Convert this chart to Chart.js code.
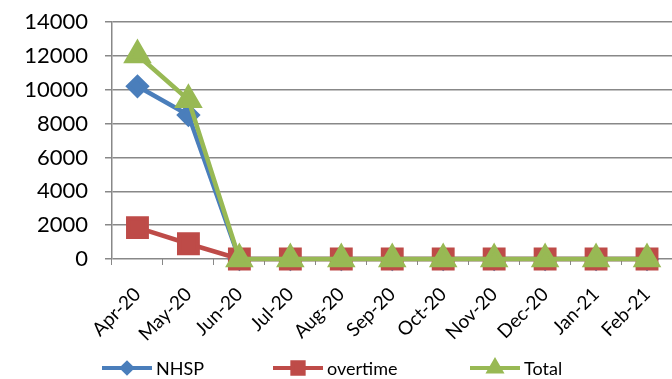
<!DOCTYPE html>
<html>
<head>
<meta charset="utf-8">
<script src="https://cdn.jsdelivr.net/npm/chart.js@4.4.1/dist/chart.umd.min.js"></script>
<style>
  html, body { margin: 0; padding: 0; background: #fff; overflow: hidden; }
  #wrap { width: 690px; height: 379px; position: relative; }
</style>
</head>
<body>
<div id="wrap"><canvas id="lineChart"></canvas></div>
<script>
const months = ['Apr-20', 'May-20', 'Jun-20', 'Jul-20', 'Aug-20', 'Sep-20', 'Oct-20', 'Nov-20', 'Dec-20', 'Jan-21', 'Feb-21'];
const nhsp = [10200, 8500, 0, 0, 0, 0, 0, 0, 0, 0, 0];
const overtime = [1850, 900, 0, 0, 0, 0, 0, 0, 0, 0, 0];
const total = [12050, 9400, 0, 0, 0, 0, 0, 0, 0, 0, 0];
const yTicks = [0, 2000, 4000, 6000, 8000, 10000, 12000, 14000];

const FONT = 'Lato, "Open Sans", sans-serif';
const gridColor = '#888888';

// legend row under the axis labels (line sample + marker + name)
const bottomLegend = {
    id: 'bottomLegend',
    afterDraw(chart) {
        const ctx = chart.ctx;
        const startX = [102, 273, 470];
        const y = 368;
        chart.data.datasets.forEach((ds, i) => {
            const x = startX[i];
            ctx.save();
            ctx.strokeStyle = ds.borderColor;
            ctx.lineWidth = 4;
            ctx.beginPath();
            ctx.moveTo(x, y);
            ctx.lineTo(x + 50, y);
            ctx.stroke();
            ctx.fillStyle = ds.pointBackgroundColor;
            ctx.strokeStyle = ds.pointBackgroundColor;
            Chart.helpers.drawPoint(ctx, {
                pointStyle: ds.pointStyle,
                radius: ds.legendRadius,
                rotation: 0,
                borderWidth: 1
            }, x + 25, y);
            ctx.fillStyle = '#000';
            ctx.font = '18px ' + FONT;
            ctx.textBaseline = 'middle';
            ctx.textAlign = 'left';
            ctx.fillText(ds.label, x + 54, y + 1);
            ctx.restore();
        });
    }
};

const ctxLine = document.getElementById('lineChart').getContext('2d');

new Chart(ctxLine, {
    type: 'line',
    data: {
        labels: months,
        datasets: [{
            label: 'NHSP',
            data: nhsp,
            borderColor: '#4A7EBB',
            backgroundColor: '#4A7EBB',
            pointBackgroundColor: '#4A7EBB',
            pointBorderColor: '#4A7EBB',
            pointStyle: 'rectRot',
            pointRadius: 9,
            legendRadius: 5,
            borderWidth: 4.5,
            tension: 0,
            clip: false,
            order: 3
        }, {
            label: 'overtime',
            data: overtime,
            borderColor: '#BE4B48',
            backgroundColor: '#BE4B48',
            pointBackgroundColor: '#BE4B48',
            pointBorderColor: '#BE4B48',
            pointStyle: 'rect',
            pointRadius: 13,
            legendRadius: 8,
            borderWidth: 4.5,
            tension: 0,
            clip: false,
            order: 2
        }, {
            label: 'Total',
            data: total,
            borderColor: '#98B954',
            backgroundColor: '#98B954',
            pointBackgroundColor: '#98B954',
            pointBorderColor: '#98B954',
            pointStyle: 'triangle',
            pointRadius: 12,
            legendRadius: 7,
            borderWidth: 4.5,
            tension: 0,
            clip: false,
            order: 1
        }]
    },
    options: {
        responsive: true,
        maintainAspectRatio: false,
        animation: false,
        layout: {
            padding: { top: 22, right: 9, left: 0, bottom: 0 }
        },
        scales: {
            x: {
                type: 'category',
                offset: true,
                grid: {
                    offset: true,
                    drawOnChartArea: false,
                    drawTicks: true,
                    tickLength: 6,
                    color: gridColor,
                    lineWidth: 1
                },
                border: { display: false },
                ticks: {
                    color: '#000',
                    font: { family: FONT, size: 19 },
                    minRotation: 45,
                    maxRotation: 45,
                    padding: 18,
                    autoSkip: false
                },
                afterFit(scale) { scale.height = 120; }
            },
            y: {
                min: 0,
                max: 14000,
                afterBuildTicks(scale) {
                    scale.ticks = yTicks.map(v => ({ value: v }));
                },
                grid: {
                    color: gridColor,
                    lineWidth: 1.5,
                    tickLength: 7
                },
                border: { color: gridColor, width: 1.5 },
                ticks: {
                    color: '#000',
                    font: { family: FONT, size: 22 },
                    padding: 17,
                    callback: (v) => String(v)
                },
                afterFit(scale) {
                    scale.width = 112;
                    scale.paddingTop = 0;
                    scale.paddingBottom = 0;
                }
            }
        },
        plugins: {
            legend: { display: false },
            tooltip: { enabled: false }
        }
    },
    plugins: [bottomLegend]
});
</script>
</body>
</html>
